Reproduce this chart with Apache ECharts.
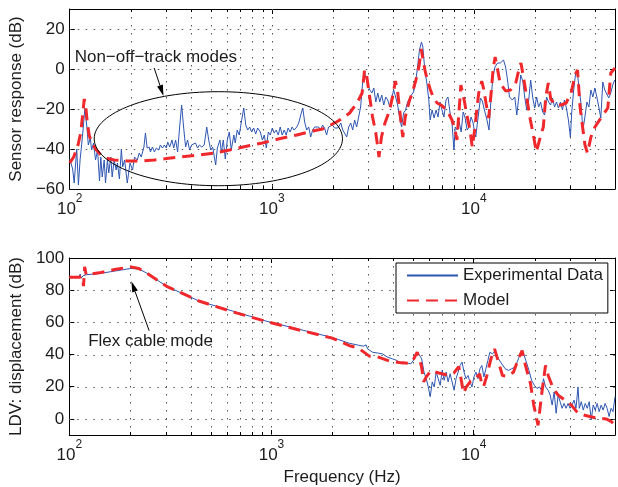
<!DOCTYPE html>
<html><head><meta charset="utf-8">
<script src="https://cdn.jsdelivr.net/npm/echarts@6/dist/echarts.min.js"></script>
<style>html,body{margin:0;padding:0;background:#fff}#c{width:618px;height:487px}</style>
</head><body><div id="c"></div>
<script>
// ---------- data ----------
const topExpF = [100,103.4,105.2,108.3,110.4,112.6,114.5,116.5,118.9,121.6,
123.6,126.4,128.3,131.2,134.2,137.3,140.4,142.5,144.8,148.1,
150.3,153.7,156.0,159.6,162.2,165.9,169.7,172.2,176.2,180.1,
182.8,186.9,192.7,198.8,204.7,209.3,215.9,220.8,225.9,232.9,
237.0,241.7,247.3,250.9,256.6,262.5,268.5,275.9,280.9,287.4,
294.0,300.6,305.5,312.4,320.7,327.0,334.4,342.0,349.9,357.9,
366.1,374.5,383.1,391.8,400.8,410.0,419.4,429.0,438.8,450.4,
463.2,476.5,487.5,498.7,510.1,527.7,537.9,554.0,562.8,575.7,
588.8,602.4,616.2,630.2,649.1,659.5,674.6,690.0,705.8,726.7,
743.5,760.5,777.8,795.6,813.9,832.6,851.5,878.1,898.1,918.6,
939.7,961.2,983.1,1006,1028,1052,1077,1101,1126,1152,
1179,1205,1233,1261,1290,1330,1360,1391,1424,1455,
1489,1524,1558,1594,1631,1668,1706,1745,1785,1826,
1868,1910,1954,1998,2045,2091,2129,2196,2246,2297,
2349,2403,2459,2515,2572,2631,2692,2753,2816,2880,
2924,2990,3058,3129,3200,3274,3348,3425,3503,3584,
3666,3750,3836,3922,4013,4105,4199,4295,4393,4494,
4596,4702,4809,4920,5032,5148,5265,5385,5508,5596,
5724,5856,5989,6079,6217,6360,6506,6655,6806,6963,
7122,7284,7451,7622,7796,7974,8092,8278,8469,8662,
8860,9065,9271,9482,9698,9922,10060,10228,10461,10792,
11028,11287,11621,11891,12159,12437,12727,13117,13528,14037,
14370,14688,15027,15498,15956,16325,16700,17073,17472,17865,
18280,18698,19120,19562,20010,20471,20934,21418,21911,22410,
22921,23445,23981,24532,25100,25670,26250,26852,27477,28096,
28738,29402,30074,30520,31221,31936,32412,33150,33911,34687,
35481,36300,37131,37971,38853,39732,40646,41583,42532,43505,
44501,45523,46560,47631,48717,49832];
const topExpDb = [-45,-50,-57,-40,-58,-45,-38,-30,-19.5,-29,
-38,-34.5,-40.5,-37,-45.5,-40.5,-56,-44,-54,-45.5,
-57,-45.5,-52,-44,-54,-45.5,-50.5,-47,-55,-40,
-49,-45.5,-57,-47,-50.5,-44,-45.5,-42,-44,-39,
-32,-39.5,-39,-41.5,-39,-41.5,-39.5,-40.5,-38,-39.5,
-38,-39.5,-36.5,-39,-35.5,-39.5,-35.5,-41.5,-29,-18,
-29,-39,-35.5,-40.5,-38,-39,-37,-39.5,-38,-39,
-38,-29,-35.5,-40.5,-39,-48,-39.5,-35.5,-41.5,-35.5,
-45,-35.5,-31.5,-40.5,-33,-37,-30.5,-33,-27,-19.5,
-28,-30.5,-29,-31.5,-29.5,-32.5,-29.5,-31.5,-35.5,-33,
-39.5,-31.5,-33,-29.5,-32,-30.5,-33,-29,-33,-30.5,
-33,-29.5,-31.5,-29,-30.5,-29,-27,-23,-19.5,-26.5,
-30.5,-29,-34,-30.5,-29,-29.5,-29,-30.5,-28,-29.5,
-33,-29,-29.5,-28,-29.5,-30.5,-29.5,-27,-30.5,-31,
-34,-29,-27,-30.5,-25.5,-29,-24,-19,-7,-1.5,
-0.5,-8,-10.5,-12,-9.5,-16.5,-12,-16.5,-13,-18,
-14,-15.5,-19,-14.5,-10.5,-14,-18,-24.5,-29,-22,
-20.5,-16.5,-15.5,-13,-11.5,-7,1,9.5,13.5,11,
-0.5,-7,-15.5,-25.5,-20.5,-24.5,-20.5,-24,-16.5,-20.5,
-24,-15.5,-14,-21.5,-26.5,-40.5,-29,-30.5,-26.5,-31.5,
-21.5,-24.5,-30.5,-29,-24,-27,-31,-34,-25.5,-14.5,
-16,-20.5,-25.5,-30.5,-15.5,-4,1,3,3,4.5,
1,-5.5,-14,-15.5,-14,-23,-14,-3,-6,-14,
-20.5,-15.5,-5.5,-14,-19.5,-14,-19,-16.5,-21.5,-23,
-14,-16.5,-18,-14.5,-19,-16.5,-19.5,-16.5,-20.5,-15.5,
-19.5,-25.5,-34,-22,-10.5,-2,-0.5,-9,-17,-30.5,
-24,-16.5,-19,-10.5,-14,-9.5,-14,-19,-24.5,-6.5,
-10.5,-9.5,-14.5,-12,-8,-5.5];

const topModF = [100,104.6,109.9,113.3,116.1,118.0,118.9,119.8,121.9,124.7,
128.3,134.2,142.5,150.3,165.9,192.7,225.9,262.5,300.6,349.9,
435,520,618,760,898,1077,1330,1594,1785,1954,
2091,2246,2431,2661,2800,2880,2946,3014,3083,3153,
3262,3336,3393,3491,3633,3822,3999,4091,4184,4280,
4378,4452,4581,4793,4958,5188,5367,5490,5583,5743,
5875,6079,6288,6580,6883,7367,7796,8065,8251,8439,
8631,8781,8981,9239,9557,9831,10114,10342,10579,10952,
11192,11517,11850,12187,12465,12754,13044,13497,14370,15204,
16178,16834,17118,17613,18011,18428,19059,19720,20401,21341,
22088,22721,23373,24040,25293,27076,28645,30312,31715,32629,
33564,34719,35512,36535,38008,39771,43543,46071,47663,50000];
const topModDb = [-47,-44,-38,-32,-22,-15,-14,-18,-26,-33,
-36.5,-40,-43,-44.5,-45.5,-46,-46,-45.5,-44.8,-44,
-43,-42,-40.5,-38.5,-37,-35,-33,-31,-30,-28,
-26.5,-24.5,-22,-16.5,-12,-0.5,-3,-10,-17,-24,
-31,-38,-44,-34,-27,-21,-12,-6,-10,-19,
-28,-34,-24,-16,-12,-5,2,10,9,-1,
-5,-10,-14,-17,-18,-20.5,-25.5,-30,-35.5,-22,
-8,-7,-16,-23,-30,-39,-30,-20.5,-12,-6,
-10,-17.5,-24.5,-12,0,6,1,-7,-11,-10.5,
-6.5,1,3,-4,-10,-16.5,-25.5,-33,-41.5,-34,
-29,-14,-7,-15,-18,-18,-17,-12,-3,-0.5,
-19,-30.5,-38,-42,-34,-29,-23,-19.5,-2,0.5];

const botExpF = [100,111.6,113.3,114.5,117.2,121.2,143.6,170.2,201.7,220.8,
241.7,303.1,441.7,644.6,939.7,1370,1998,2431,2692,2847,
2936,2990,3164,3336,3543,3737,3967,4137,4280,4428,
4529,4686,4887,5015,5171,5277,5367,5533,5679,5829,
5962,6100,6239,6381,6527,6677,6830,6985,7146,7309,
7476,7649,7823,8002,8184,8374,8564,8761,8962,9167,
9376,9590,9810,10035,10261,10499,10745,10980,11236,11494,
11758,12023,12397,12785,13266,13773,14317,14858,15429,16029,
16642,17153,17670,18216,18778,19338,19945,20561,21170,21658,
22158,22665,23364,23897,24448,25007,25582,26160,26758,27378,
28000,28639,29296,29967,30656,31351,32066,32810,33292,34053,
34829,35636,36452,37280,38134,39009,39902,40813,41757,42711,
43681,44680,45710,46752,47818,48908,50000];
const botExpDb = [88,88.3,90,87.5,89,89.6,90.5,92,93.5,93.2,
90.6,82.4,73.1,67,60.8,55.7,50.6,47,45.8,45.2,
46,43.5,41.4,41,40.4,38.5,37.3,36.5,35.3,34.2,
33.2,34.8,34.2,36,39.3,41.5,41.8,37.3,29.1,25,
19.9,13.8,23,19.9,29.1,25,20.9,30.1,24,29.1,
23,28.1,29.1,17.8,25,29.1,33.2,35.3,29.1,25,
27,23,19.9,26.1,29.1,25,31.2,33.2,26.1,31.2,
36.3,41.4,40.4,42.4,37.3,34.2,31.2,30.1,31.2,32.2,
37.3,41.4,40.4,35.3,30.1,24,20.9,18.9,19.9,17.8,
25,19.9,17.8,14.8,8.6,16.8,3.5,14.8,10.7,6.6,
9.6,6.6,9.6,6.6,8.6,11.7,6.6,19.9,6.6,10.7,
5.5,9.6,6.6,10.7,-0.6,8.6,5.5,9.6,4.5,8.6,
5.5,9.6,6.6,1.5,6.6,4.5,13.8];

const botModF = [100,111.6,116.1,117.6,119.2,121.2,143.6,170.2,201.7,220.8,
241.7,303.1,441.7,644.6,939.7,1370,1998,2431,2692,3048,
3336,3822,4280,4793,5015,5259,5379,5515,5662,5817,
6148,6730,7535,7974,8439,8631,8911,9218,9667,10228,
10701,10952,11192,11629,12168,12683,13266,13880,14688,15727,
16642,17364,18043,19094,19826,20818,21658,22665,23364,24727,
26160,28219,30417,32810,34719,37451,41135,45197,47818,50000];
const botModDb = [88,88,88.5,82.5,94.5,89.5,91,93,94.5,93.5,
90.6,82.4,73.1,66.5,60.6,55.3,50.2,45.5,44,39,
38.6,36,35,34.5,36.5,41.5,41.5,33,23,26,
30,28.5,27,28.5,32.5,26,16,20,23.5,25,
28,22,20,27,37.3,43.5,35.3,27,26.5,29,
37.3,42.4,33.2,22,8.6,-4,14.8,33.2,27,19,
14.8,11.7,8.6,3.5,2.5,1.5,0.4,0,-1.6,-3.7];

const seriesNames = ['Experimental Data', 'Model'];
const yNames = ['Sensor response (dB)', 'LDV: displacement (dB)'];
const xName = 'Frequency (Hz)';
const xMajor = [100, 1000, 10000];
const xGridVals = [200,300,400,500,600,700,800,900,1000,2000,3000,4000,5000,6000,7000,8000,9000,10000,20000,30000,40000];
const topYTicks = [-60,-40,-20,0,20];
const botYTicks = [0,20,40,60,80,100];
const annText = ['Non\u2212off\u2212track modes', 'Flex cable mode'];

// ---------- style ----------
const FONT = '"Liberation Sans", Arial, Helvetica, sans-serif';
const TXT = '#1c1c1c';
const BLUE = '#2d56b2';
const RED = '#f0282c';
const GRID = '#555';
const FS = 17;
const X_MIN = 100, X_MAX = 50000;
const TOP_RANGE = [-60, 30], BOT_RANGE = [-10, 100];

const pairs = (a, b) => a.map((v, i) => [v, b[i]]);
const minus = v => (v < 0 ? '\u2212' + (-v) : String(v));

function xLabel(v) {
  const e = Math.round(Math.log10(v));
  if (Math.abs(v - Math.pow(10, e)) / v < 1e-6) return '{b|10}{s|' + e + '}';
  return '';
}
const xRich = {
  b: { fontSize: FS, fontFamily: FONT, color: TXT },
  s: { fontSize: 12, fontFamily: FONT, color: TXT, padding: [0, 0, 20, 0] }
};
const blackLine = { lineStyle: { color: '#000', width: 1 } };

function xAx(grid, pos, withLabels, name) {
  return {
    type: 'log', logBase: 10, gridIndex: grid, position: pos, min: X_MIN, max: X_MAX,
    axisLine: Object.assign({ show: true, onZero: false }, blackLine),
    axisTick: { show: true, inside: true, length: 5, lineStyle: { color: '#000' } },
    axisLabel: { show: withLabels, formatter: xLabel, rich: xRich, margin: 4, color: TXT },
    splitLine: { show: false },
    name: name || '', nameLocation: 'middle', nameGap: 34,
    nameTextStyle: { fontSize: FS, fontFamily: FONT, color: TXT }
  };
}
function yAx(grid, pos, range, ticks, withLabels, name) {
  return {
    type: 'value', gridIndex: grid, position: pos, min: range[0], max: range[1],
    axisLine: Object.assign({ show: true, onZero: false }, blackLine),
    axisTick: { show: true, inside: true, length: 5, lineStyle: { color: '#000' }, customValues: ticks },
    axisLabel: { show: withLabels, customValues: ticks, formatter: minus, margin: 5,
      fontSize: FS, fontFamily: FONT, color: TXT },
    splitLine: { show: false },
    name: name || '', nameLocation: 'middle', nameGap: 40,
    nameTextStyle: { fontSize: FS, fontFamily: FONT, color: TXT }
  };
}

function vLine(params, api) {
  const cs = params.coordSys;
  const x = Math.round(api.coord([api.value(0), api.value(1)])[0]) + 0.5;
  const t = cs.y, b = cs.y + cs.height;
  const ch = [{ type: 'line', shape: { x1: x, y1: t, x2: x, y2: b },
    style: { stroke: GRID, lineWidth: 1, lineDash: [1.5, 6.5] } }];
  if (api.value(2) === 0) {
    ch.push({ type: 'line', shape: { x1: x, y1: b, x2: x, y2: b - 3 }, style: { stroke: '#000', lineWidth: 1 } });
    ch.push({ type: 'line', shape: { x1: x, y1: t, x2: x, y2: t + 3 }, style: { stroke: '#000', lineWidth: 1 } });
  }
  return { type: 'group', children: ch };
}
function hLine(params, api) {
  const cs = params.coordSys;
  const y = Math.round(api.coord([api.value(0), api.value(1)])[1]) + 0.5;
  return { type: 'line', shape: { x1: cs.x, y1: y, x2: cs.x + cs.width, y2: y },
    style: { stroke: GRID, lineWidth: 1, lineDash: [1.5, 6.5] } };
}
function gridSeries(xi, yi, range, yTicks) {
  const mid = (range[0] + range[1]) / 2;
  return [
    { type: 'custom', xAxisIndex: xi, yAxisIndex: yi, renderItem: vLine, silent: true, z: 1, clip: false,
      data: xGridVals.map(f => [f, mid, xMajor.indexOf(f) >= 0 ? 1 : 0]) },
    { type: 'custom', xAxisIndex: xi, yAxisIndex: yi, renderItem: hLine, silent: true, z: 1, clip: false,
      data: yTicks.filter(v => v > range[0] && v < range[1]).map(v => [1000, v]) }
  ];
}
function expSeries(xi, yi, data) {
  return { name: seriesNames[0], type: 'line', xAxisIndex: xi, yAxisIndex: yi, data: data,
    symbol: 'none', color: BLUE, lineStyle: { color: BLUE, width: 1 }, z: 3, silent: true };
}
function modSeries(xi, yi, data) {
  return { name: seriesNames[1], type: 'line', xAxisIndex: xi, yAxisIndex: yi, data: data,
    symbol: 'none', color: RED, lineStyle: { color: RED, width: 3, type: [12, 7], cap: 'butt' }, z: 4, silent: true };
}

const option = {
  animation: false,
  backgroundColor: '#fff',
  textStyle: { fontFamily: FONT },
  grid: [
    { left: 68, top: 9, width: 549, height: 180 },
    { left: 68, top: 258, width: 549, height: 179 }
  ],
  xAxis: [
    xAx(0, 'bottom', true), xAx(0, 'top', false),
    xAx(1, 'bottom', true, xName), xAx(1, 'top', false)
  ],
  yAxis: [
    yAx(0, 'left', TOP_RANGE, topYTicks, true, yNames[0]), yAx(0, 'right', TOP_RANGE, topYTicks, false),
    yAx(1, 'left', BOT_RANGE, botYTicks, true, yNames[1]), yAx(1, 'right', BOT_RANGE, botYTicks, false)
  ],
  legend: {
    data: seriesNames, orient: 'vertical', left: 396, top: 263,
    itemWidth: 51, itemHeight: 14, itemGap: 8, padding: [4, 5, 4, 10],
    borderColor: '#000', borderWidth: 1, backgroundColor: '#fff', selectedMode: false,
    itemStyle: { color: 'rgba(0,0,0,0)', borderWidth: 0, opacity: 0 },
    textStyle: { fontSize: FS, fontFamily: FONT, color: TXT }, z: 10
  },
  series: [].concat(
    gridSeries(0, 0, TOP_RANGE, topYTicks),
    gridSeries(2, 2, BOT_RANGE, botYTicks),
    [expSeries(0, 0, pairs(topExpF, topExpDb)), modSeries(0, 0, pairs(topModF, topModDb)),
     expSeries(2, 2, pairs(botExpF, botExpDb)), modSeries(2, 2, pairs(botModF, botModDb))]
  )
};

const chart = echarts.init(document.getElementById('c'), null, { renderer: 'canvas' });
chart.setOption(option);

// ---------- annotations (anchored in data coordinates) ----------
const P = (g, v) => chart.convertToPixel({ xAxisIndex: g === 0 ? 0 : 2, yAxisIndex: g === 0 ? 0 : 2 }, v);
function arrow(a, b) {
  const dx = b[0] - a[0], dy = b[1] - a[1], L = Math.hypot(dx, dy);
  const ux = dx / L, uy = dy / L, nx = -uy, ny = ux, hl = 11, hw = 3;
  const bx = b[0] - ux * hl, by = b[1] - uy * hl;
  return [
    { type: 'line', shape: { x1: a[0], y1: a[1], x2: bx, y2: by }, style: { stroke: '#000', lineWidth: 1 }, z: 20 },
    { type: 'polygon', shape: { points: [[b[0], b[1]], [bx + nx * hw, by + ny * hw], [bx - nx * hw, by - ny * hw]] },
      style: { fill: '#000' }, z: 20 }
  ];
}
const e1 = P(0, [132.2, -11.35]), e2 = P(0, [2239, -58.35]);
const t1 = P(0, [105.8, 6]);
const t2 = P(1, [124, 48.4]);
const graphics = [
  { type: 'ellipse', shape: { cx: (e1[0] + e2[0]) / 2, cy: (e1[1] + e2[1]) / 2,
      rx: (e2[0] - e1[0]) / 2, ry: (e2[1] - e1[1]) / 2 },
    style: { fill: null, stroke: '#000', lineWidth: 1 }, z: 20, silent: true },
  { type: 'text', x: t1[0], y: t1[1], z: 20,
    style: { text: annText[0], font: FS + 'px ' + FONT, fill: TXT, align: 'left', verticalAlign: 'middle' } },
  { type: 'text', x: t2[0], y: t2[1], z: 20,
    style: { text: annText[1], font: FS + 'px ' + FONT, fill: TXT, align: 'left', verticalAlign: 'middle' } }
].concat(
  arrow(P(0, [261.7, 0.5]), P(0, [291.1, -13.5])),
  arrow(P(1, [248.4, 54.8]), P(1, [202.8, 85.6]))
);
chart.setOption({ graphic: graphics });
</script>
</body></html>
